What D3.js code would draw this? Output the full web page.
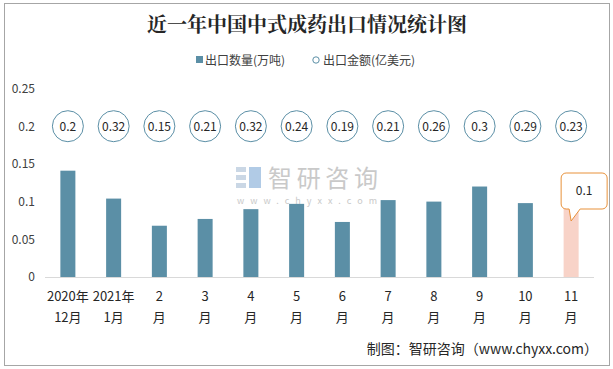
<!DOCTYPE html>
<html><head><meta charset="utf-8">
<script src="https://cdn.jsdelivr.net/npm/d3@7/dist/d3.min.js"></script>
<style>body{margin:0;background:#fff}svg{display:block}</style>
</head><body><svg id="c" width="613" height="369"></svg>
<script>
const catLine1 = ["2020年","2021年","2","3","4","5","6","7","8","9","10","11"];
const catLine2 = ["12月","1月","月","月","月","月","月","月","月","月","月","月"];
const volume = [0.141,0.104,0.068,0.077,0.090,0.097,0.073,0.102,0.100,0.120,0.098,0.100];
const amount = [0.2,0.32,0.15,0.21,0.32,0.24,0.19,0.21,0.26,0.3,0.29,0.23];
const yTicks = [0,0.05,0.1,0.15,0.2,0.25];
const markerLevel = 0.2;
const highlightIndex = 11;

const svg = d3.select("#c");
const font = "'Noto Sans CJK SC','Noto Sans',sans-serif";
svg.append("rect").attr("x",4.5).attr("y",3.5).attr("width",605).attr("height",362)
  .attr("fill","#fff").attr("stroke","#a6a6a6").attr("stroke-width",1);

svg.append("text").attr("x",307).attr("y",32).attr("text-anchor","middle")
  .attr("font-family","'Noto Serif CJK SC','Noto Sans CJK SC',serif").attr("font-weight","bold")
  .attr("font-size",20).attr("fill","#262626").text("近一年中国中式成药出口情况统计图");

const y = d3.scaleLinear().domain([0,0.25]).range([277,88.5]);
const x = d3.scaleBand().domain(d3.range(catLine1.length)).range([45,594])
  .paddingInner(0.672).paddingOuter(0.336);

// watermark
const wm = svg.append("g").attr("opacity",0.9);
wm.append("rect").attr("x",236).attr("y",167).attr("width",10).attr("height",5).attr("fill","#c5d3e3");
wm.append("rect").attr("x",236).attr("y",175).attr("width",10).attr("height",5).attr("fill","#c5d3e3");
wm.append("rect").attr("x",236).attr("y",183).attr("width",10).attr("height",5).attr("fill","#c5d3e3");
wm.append("rect").attr("x",249).attr("y",167).attr("width",12).attr("height",21).attr("fill","#a9c6e4");
wm.append("text").attr("x",268).attr("y",187).attr("font-family",font).attr("font-size",24)
  .attr("fill","#c4c4c4").attr("textLength",110).text("智研咨询");
wm.append("text").attr("x",237).attr("y",204).attr("font-family",font).attr("font-size",9)
  .attr("fill","#c4c4c4").attr("textLength",140).text("www.chyxx.com");

// y axis labels
const ya = svg.append("g").attr("transform","translate(35,0)")
  .call(d3.axisLeft(y).tickValues(yTicks).tickSize(0).tickPadding(0).tickFormat(d=>String(d)));
ya.select(".domain").remove();
ya.selectAll("text").attr("font-family",font).attr("font-size",12).attr("fill","#404040");

// baseline
svg.append("line").attr("x1",45).attr("x2",594).attr("y1",y(0)+0.5).attr("y2",y(0)+0.5)
  .attr("stroke","#d9d9d9").attr("stroke-width",1);

// bars
svg.append("g").selectAll("rect").data(volume).join("rect")
  .attr("x",(d,i)=>x(i)).attr("width",x.bandwidth())
  .attr("y",d=>y(d)).attr("height",d=>y(0)-y(d))
  .attr("fill",(d,i)=>i===highlightIndex?"#f8d3c8":"#5b8fa6");

// x labels
const xl = svg.append("g");
catLine1.forEach((t,i)=>{
  const cx = x(i)+x.bandwidth()/2;
  xl.append("text").attr("x",cx).attr("y",301).attr("text-anchor","middle")
    .attr("font-family",font).attr("font-size",13).attr("fill","#262626").text(t);
  xl.append("text").attr("x",cx).attr("y",322).attr("text-anchor","middle")
    .attr("font-family",font).attr("font-size",13).attr("fill","#262626").text(catLine2[i]);
});

// amount markers
const mk = svg.append("g").selectAll("g").data(amount).join("g")
  .attr("transform",(d,i)=>`translate(${x(i)+x.bandwidth()/2},${y(markerLevel)})`);
mk.append("circle").attr("r",15.5).attr("fill","#fff").attr("stroke","#5b8fa6").attr("stroke-width",1);
mk.append("text").attr("text-anchor","middle").attr("dy","0.36em")
  .attr("font-family",font).attr("font-size",12).attr("fill","#262626").text(d=>d);

// callout for highlighted bar
{
  const cx = x(highlightIndex)+x.bandwidth()/2;
  const top = 173, bot = 209, left = cx-10, right = cx+36, r = 5;
  const tipX = cx, tipY = 221;
  const p = d3.path();
  p.moveTo(left+r,top); p.lineTo(right-r,top); p.arcTo(right,top,right,top+r,r);
  p.lineTo(right,bot-r); p.arcTo(right,bot,right-r,bot,r);
  p.lineTo(cx+9,bot); p.lineTo(tipX,tipY); p.lineTo(cx-2,bot);
  p.lineTo(left+r,bot); p.arcTo(left,bot,left,bot-r,r);
  p.lineTo(left,top+r); p.arcTo(left,top,left+r,top,r); p.closePath();
  svg.append("path").attr("d",p.toString()).attr("fill","#fff").attr("stroke","#e8913a").attr("stroke-width",1);
  svg.append("text").attr("x",(left+right)/2).attr("y",(top+bot)/2).attr("dy","0.36em")
    .attr("text-anchor","middle").attr("font-family",font).attr("font-size",12).attr("fill","#262626")
    .text(volume[highlightIndex]);
}

// legend
const lg = svg.append("g").attr("font-family",font).attr("font-size",12).attr("fill","#404040");
lg.append("rect").attr("x",196).attr("y",56).attr("width",7).attr("height",7).attr("fill","#5b8fa6");
lg.append("text").attr("x",205).attr("y",64.5).text("出口数量(万吨)");
lg.append("circle").attr("cx",316).attr("cy",60).attr("r",3.2).attr("fill","#fff").attr("stroke","#5b8fa6");
lg.append("text").attr("x",323).attr("y",64.5).text("出口金额(亿美元)");

// source
svg.append("text").attr("x",598).attr("y",354).attr("text-anchor","end").attr("font-family",font).attr("font-size",14)
  .attr("fill","#262626").text("制图：智研咨询（www.chyxx.com）");
</script></body></html>
